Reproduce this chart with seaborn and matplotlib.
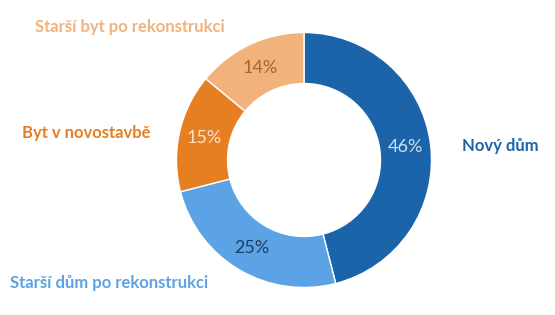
import matplotlib
matplotlib.use("Agg")
import matplotlib.pyplot as plt
import seaborn as sns

sns.set_theme(style="white")
plt.rcParams['font.family'] = ['Lato', 'DejaVu Sans']

categories = ["Nový dům", "Starší dům po rekonstrukci", "Byt v novostavbě", "Starší byt po rekonstrukci"]
values = [46, 25, 15, 14]
colors = ["#1c64aa", "#5ba3e4", "#e67e22", "#f1b27b"]
pct_colors = ["#cfe0f1", "#1f3f66", "#fbe3cc", "#a86628"]

fig = plt.figure(figsize=(5.55, 3.15), dpi=100)
ax = fig.add_axes([0, 0, 1, 1])
cx, cy, R = 304, 315 - 160, 127.5
wedges, texts, autotexts = ax.pie(
    values, colors=colors, startangle=90, counterclock=False,
    radius=R, center=(cx, cy), autopct="%d%%", pctdistance=0.8,
    wedgeprops=dict(width=51, edgecolor="white", linewidth=1),
    textprops=dict(fontsize=13),
)
for t, c in zip(autotexts, pct_colors):
    t.set_color(c)
ax.set_xlim(0, 555)
ax.set_ylim(0, 315)
ax.set_aspect("equal")
ax.axis("off")

label_pos = [(462, 146, "left"), (10, 283, "left"), (22, 133, "left"), (35, 27, "left")]
for (x, y, ha), lab, c in zip(label_pos, categories, colors):
    ax.text(x, 315 - y, lab, ha=ha, va="center", fontsize=12, fontweight="bold", color=c)

fig.savefig("out.png", dpi=100)
